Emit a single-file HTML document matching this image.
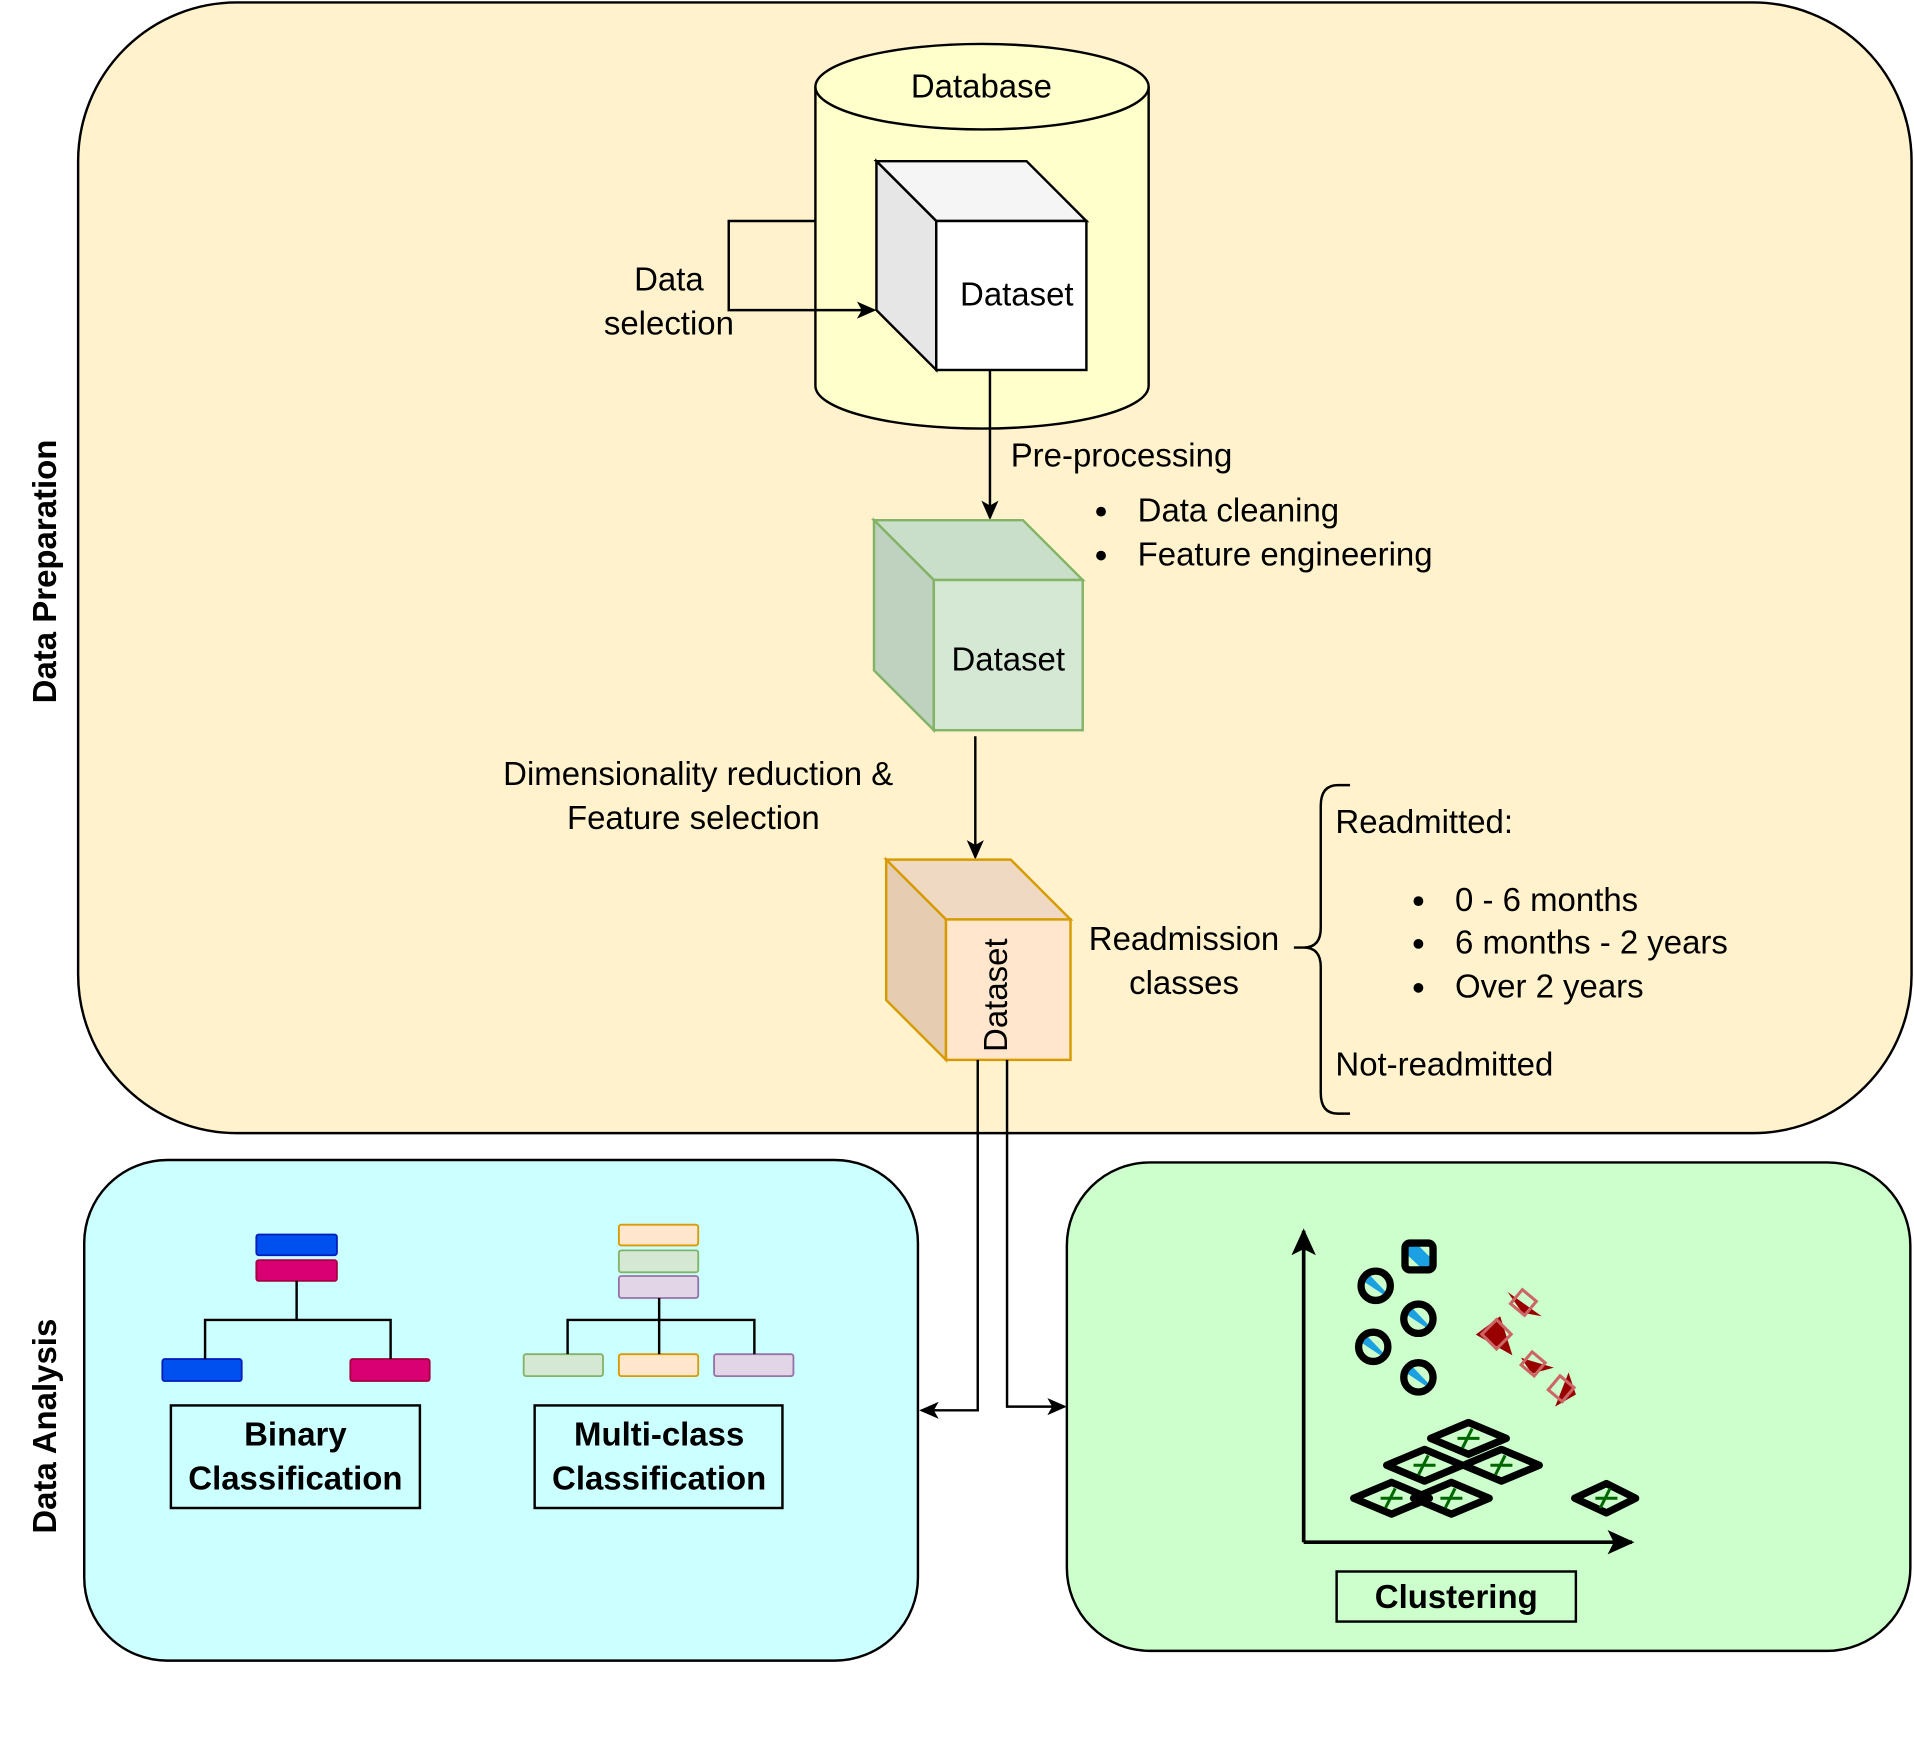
<!DOCTYPE html>
<html><head><meta charset="utf-8"><style>
html,body{margin:0;padding:0;background:#fff}
svg{display:block}
text{font-family:"Liberation Sans",Arial,sans-serif;font-size:27px;fill:#000}
.b{font-weight:bold}
</style></head><body>
<svg width="1914" height="1740" viewBox="0 0 1568 1425" preserveAspectRatio="none" xmlns="http://www.w3.org/2000/svg">
<defs>
<marker id="ar" markerWidth="16" markerHeight="16" refX="14" refY="8" orient="auto" markerUnits="userSpaceOnUse">
<path d="M0,1 L16,8 L0,15 L4,8 Z" fill="#000"/></marker>
<marker id="ar2" markerWidth="22" markerHeight="22" refX="20" refY="11" orient="auto" markerUnits="userSpaceOnUse">
<path d="M0,1 L22,11 L0,21 L5,11 Z" fill="#000"/></marker>
<g id="blob">
<circle cx="0" cy="0" r="14" fill="#1ba1e2"/>
<path d="M-12,-8 L10,13 A16,16 0 0 1 -12,-8 Z" fill="#ccffcc" transform="rotate(-10)"/>
<path d="M-8,-12 L13,10 A16,16 0 0 0 -8,-12 Z" fill="#ccffcc"/>
<circle cx="0" cy="0" r="12" fill="none" stroke="#000" stroke-width="6"/>
</g>
</defs>
<rect x="64" y="2" width="1502" height="926" rx="130" fill="#fff2cc" stroke="#000" stroke-width="2"/>
<rect x="69" y="950" width="683" height="410" rx="68" fill="#ccffff" stroke="#000" stroke-width="2"/>
<rect x="874" y="952" width="691" height="400" rx="68" fill="#ccffcc" stroke="#000" stroke-width="2"/>
<text class="b" transform="translate(46,468) rotate(-90)" text-anchor="middle" font-size="25">Data Preparation</text>
<text class="b" transform="translate(46,1168) rotate(-90)" text-anchor="middle" font-size="25">Data Analysis</text>

<path d="M668,71 L668,316 A136.5,35 0 0 0 941,316 L941,71" fill="#ffffcc" stroke="#000" stroke-width="2"/>
<ellipse cx="804.5" cy="71" rx="136.5" ry="35" fill="#ffffcc" stroke="#000" stroke-width="2"/>
<text x="804" y="80" text-anchor="middle">Database</text>

<polygon points="718,132 841,132 890,181 767,181" fill="#f5f5f5" stroke="#000" stroke-width="2"/>
<polygon points="718,132 767,181 767,303 718,254" fill="#e6e6e6" stroke="#000" stroke-width="2"/>
<rect x="767" y="181" width="123" height="122" fill="#fff" stroke="#000" stroke-width="2"/>
<text x="833" y="250" text-anchor="middle" font-size="28">Dataset</text>

<polyline points="668,181 597,181 597,254 716,254" fill="none" stroke="#000" stroke-width="2" marker-end="url(#ar)"/>
<text x="548" y="238" text-anchor="middle" font-size="28">Data</text>
<text x="548" y="274" text-anchor="middle" font-size="28">selection</text>

<line x1="811" y1="303" x2="811" y2="424" stroke="#000" stroke-width="2" marker-end="url(#ar)"/>
<text x="828" y="382" font-size="28">Pre-processing</text>
<circle cx="902" cy="419" r="4"/><text x="932" y="427" font-size="28">Data cleaning</text>
<circle cx="902" cy="455" r="4"/><text x="932" y="463" font-size="28">Feature engineering</text>

<polygon points="716,426 838,426 887,475 765,475" fill="#cadfc9" stroke="#82b366" stroke-width="2"/>
<polygon points="716,426 765,475 765,598 716,549" fill="#bfd2bf" stroke="#82b366" stroke-width="2"/>
<rect x="765" y="475" width="122" height="123" fill="#d5e8d4" stroke="#82b366" stroke-width="2"/>
<text x="826" y="549" text-anchor="middle" font-size="28">Dataset</text>

<line x1="799" y1="603" x2="799" y2="702" stroke="#000" stroke-width="2" marker-end="url(#ar)"/>
<text x="572" y="643" text-anchor="middle" font-size="28">Dimensionality reduction &amp;</text>
<text x="568" y="679" text-anchor="middle" font-size="28">Feature selection</text>

<polygon points="726,704 828,704 877,753 775,753" fill="#efd9c2" stroke="#d79b00" stroke-width="2"/>
<polygon points="726,704 775,753 775,868 726,819" fill="#e6cdb2" stroke="#d79b00" stroke-width="2"/>
<rect x="775" y="753" width="102" height="115" fill="#ffe6cc" stroke="#d79b00" stroke-width="2"/>
<text transform="translate(825,815) rotate(-90)" text-anchor="middle" font-size="28">Dataset</text>

<text x="970" y="778" text-anchor="middle" font-size="28">Readmission</text>
<text x="970" y="814" text-anchor="middle" font-size="28">classes</text>
<path d="M1106,643 L1096,643 Q1082,643 1082,660 L1082,760 Q1082,776 1068,776 L1060,776 M1068,776 Q1082,776 1082,792 L1082,895 Q1082,912 1096,912 L1106,912" fill="none" stroke="#000" stroke-width="2"/>
<text x="1094" y="682" font-size="28">Readmitted:</text>
<circle cx="1162" cy="738" r="4"/><text x="1192" y="746" font-size="28">0 - 6 months</text>
<circle cx="1162" cy="773" r="4"/><text x="1192" y="781" font-size="28">6 months - 2 years</text>
<circle cx="1162" cy="809" r="4"/><text x="1192" y="817" font-size="28">Over 2 years</text>
<text x="1094" y="881" font-size="28">Not-readmitted</text>

<polyline points="801,868 801,1155 755,1155" fill="none" stroke="#000" stroke-width="2" marker-end="url(#ar)"/>
<polyline points="825,868 825,1152 872,1152" fill="none" stroke="#000" stroke-width="2" marker-end="url(#ar)"/>

<g stroke-width="1.5">
<rect x="210" y="1011" width="66" height="17" rx="2" fill="#0050ef" stroke="#001dbc"/>
<rect x="210" y="1032" width="66" height="17" rx="2" fill="#d80073" stroke="#a50040"/>
<rect x="133" y="1113" width="65" height="18" rx="2" fill="#0050ef" stroke="#001dbc"/>
<rect x="287" y="1113" width="65" height="18" rx="2" fill="#d80073" stroke="#a50040"/>
</g>
<path d="M243,1049 V1081 M168,1113 V1081 H320 V1113" fill="none" stroke="#000" stroke-width="2"/>
<rect x="140" y="1151" width="204" height="84" fill="none" stroke="#000" stroke-width="2"/>
<text class="b" x="242" y="1184" text-anchor="middle" font-size="28">Binary</text>
<text class="b" x="242" y="1220" text-anchor="middle" font-size="28">Classification</text>

<g stroke-width="1.5">
<rect x="507" y="1003" width="65" height="17" rx="2" fill="#ffe6cc" stroke="#d79b00"/>
<rect x="507" y="1024" width="65" height="18" rx="2" fill="#d5e8d4" stroke="#82b366"/>
<rect x="507" y="1045" width="65" height="18" rx="2" fill="#e1d5e7" stroke="#9673a6"/>
<rect x="429" y="1109" width="65" height="18" rx="2" fill="#d5e8d4" stroke="#82b366"/>
<rect x="507" y="1109" width="65" height="18" rx="2" fill="#ffe6cc" stroke="#d79b00"/>
<rect x="585" y="1109" width="65" height="18" rx="2" fill="#e1d5e7" stroke="#9673a6"/>
</g>
<path d="M540,1063 V1109 M465,1109 V1081 H618 V1109" fill="none" stroke="#000" stroke-width="2"/>
<rect x="438" y="1151" width="203" height="84" fill="none" stroke="#000" stroke-width="2"/>
<text class="b" x="540" y="1184" text-anchor="middle" font-size="28">Multi-class</text>
<text class="b" x="540" y="1220" text-anchor="middle" font-size="28">Classification</text>

<line x1="1068" y1="1263" x2="1068" y2="1008" stroke="#000" stroke-width="3" marker-end="url(#ar2)"/>
<line x1="1068" y1="1263" x2="1337" y2="1263" stroke="#000" stroke-width="3" marker-end="url(#ar2)"/>
<use href="#blob" x="1127" y="1053"/>
<use href="#blob" x="1162" y="1080"/>
<use href="#blob" x="1125" y="1103"/>
<use href="#blob" x="1162" y="1128"/>
<g>
<rect x="1149" y="1016" width="27" height="26" rx="4" fill="#1ba1e2"/>
<path d="M1149,1024 L1168,1042 L1153,1042 Z M1158,1016 L1176,1034 L1176,1018 Z" fill="#ccffcc"/>
<rect x="1151" y="1018" width="23" height="22" rx="4" fill="none" stroke="#000" stroke-width="6"/>
</g>
<g fill="#990000" stroke="#c66" stroke-width="2.5">
<polygon points="1209,1093 1229,1078 1239,1110" stroke="none"/><rect x="1218" y="1084" width="17" height="17" fill="none" transform="rotate(45 1226 1092)"/>
<polygon points="1235,1058 1263,1078 1247,1075" stroke="none"/><rect x="1241" y="1059" width="15" height="15" fill="none" transform="rotate(40 1248 1066)"/>
<polygon points="1246,1112 1273,1120 1255,1125" stroke="none"/><rect x="1249" y="1110" width="14" height="14" fill="none" transform="rotate(40 1256 1117)"/>
<polygon points="1274,1152 1285,1124 1291,1142" stroke="none"/><rect x="1271" y="1130" width="15" height="15" fill="none" transform="rotate(40 1279 1138)"/>
</g>
<g fill="none" stroke="#000" stroke-width="6" stroke-linejoin="round">
<polygon points="1172,1178 1203,1165 1234,1178 1203,1191"/>
<polygon points="1136,1200 1167,1187 1198,1200 1167,1213"/>
<polygon points="1199,1200 1230,1187 1261,1200 1230,1213"/>
<polygon points="1109,1227 1140,1214 1171,1227 1140,1240"/>
<polygon points="1158,1227 1189,1214 1220,1227 1189,1240"/>
<polygon points="1290,1227 1316,1215 1340,1227 1316,1239"/>
</g>
<g stroke="#006600" stroke-width="2.5">
<path d="M1198,1186 L1206,1170 M1194,1178 H1212"/>
<path d="M1162,1208 L1170,1192 M1158,1200 H1176"/>
<path d="M1225,1208 L1233,1192 M1221,1200 H1239"/>
<path d="M1135,1235 L1143,1219 M1131,1227 H1149"/>
<path d="M1184,1235 L1192,1219 M1180,1227 H1198"/>
<path d="M1311,1235 L1319,1219 M1307,1227 H1325"/>
</g>
<rect x="1095" y="1287" width="196" height="41" fill="none" stroke="#000" stroke-width="2"/>
<text class="b" x="1193" y="1317" text-anchor="middle" font-size="28">Clustering</text>
</svg>
</body></html>
